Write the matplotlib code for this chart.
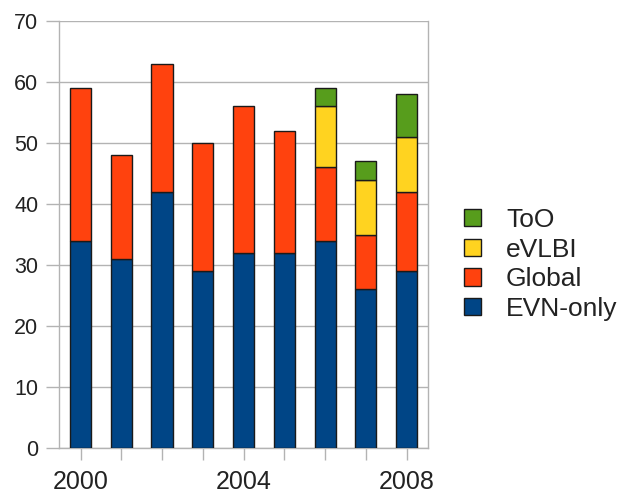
import matplotlib
matplotlib.use("Agg")
import matplotlib.pyplot as plt
from matplotlib.patches import Patch
import numpy as np

years = [2000, 2001, 2002, 2003, 2004, 2005, 2006, 2007, 2008]
evn_only = [34, 31, 42, 29, 32, 32, 34, 26, 29]
global_ = [25, 17, 21, 21, 24, 20, 12, 9, 13]
evlbi = [0, 0, 0, 0, 0, 0, 10, 9, 9]
too = [0, 0, 0, 0, 0, 0, 3, 3, 7]
series_names = ["EVN-only", "Global", "eVLBI", "ToO"]
colors = ["#004586", "#ff420e", "#ffd320", "#579d1c"]
yticks = [0, 10, 20, 30, 40, 50, 60, 70]
xlabel_years = [2000, 2004, 2008]

plt.rcParams['font.family'] = ['Liberation Sans', 'DejaVu Sans']

fig = plt.figure(figsize=(6.21, 4.97), dpi=100)
ax = fig.add_axes([0.0955, 0.0986, 0.5935, 0.859])

x = np.arange(len(years))
bottom = np.zeros(len(years))
data = [evn_only, global_, evlbi, too]
for vals, c in zip(data, colors):
    vals = np.array(vals, dtype=float)
    mask = vals > 0
    ax.bar(x[mask], vals[mask], width=0.52, bottom=bottom[mask], color=c,
           edgecolor="#1a1a1a", linewidth=1.0, zorder=3)
    bottom += vals

grid_c = "#b3b3b3"
ax.set_xlim(-0.52, 8.52)
ax.set_ylim(0, 70)
ax.set_yticks(yticks)
ax.yaxis.grid(True, color=grid_c, linewidth=1.0, zorder=0)
ax.set_xticks(x)
ax.set_xticklabels([str(y) if y in xlabel_years else "" for y in years])
for s in ["left", "right", "bottom"]:
    ax.spines[s].set_color(grid_c)
    ax.spines[s].set_linewidth(1.0)
ax.spines["top"].set_visible(False)
ax.tick_params(axis="y", length=9.5, width=1.0, color=grid_c, pad=5.5,
               labelsize=15.5, labelcolor="#222222")
ax.tick_params(axis="x", length=8.5, width=1.0, color=grid_c, pad=7,
               labelsize=18, labelcolor="#222222")

handles = [Patch(facecolor=c, edgecolor="#1a1a1a", linewidth=1.0) for c in colors]
leg = fig.legend(handles[::-1], series_names[::-1], loc="upper left",
                 bbox_to_anchor=(464 / 621, 1 - 208 / 497), frameon=False,
                 fontsize=19, handlelength=0.64, handleheight=0.64,
                 handletextpad=0.95, labelspacing=0.21, borderpad=0,
                 borderaxespad=0)
for t in leg.get_texts():
    t.set_color("#222222")

fig.savefig("out.png", dpi=100)
